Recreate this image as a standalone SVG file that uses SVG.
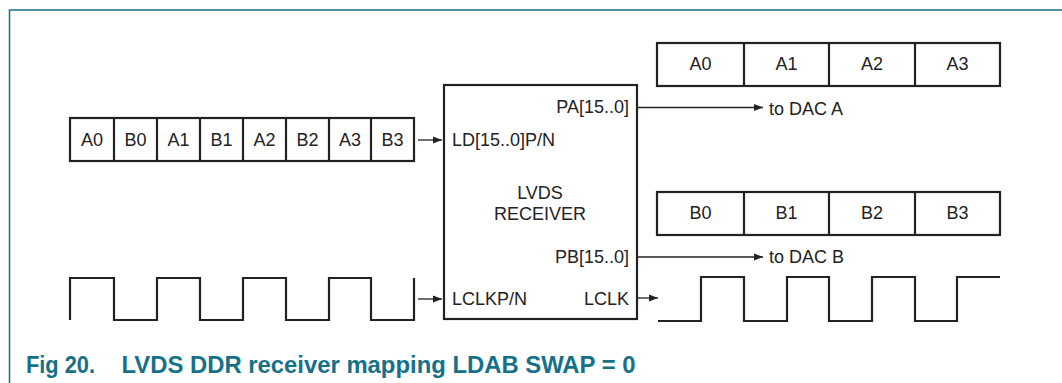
<svg xmlns="http://www.w3.org/2000/svg" width="1062" height="383" viewBox="0 0 1062 383">
<style>
.ln{fill:none;stroke:#222;stroke-width:1.3}
.bx{fill:#fff;stroke:#222;stroke-width:2.2}
.cell{fill:none;stroke:#222;stroke-width:2.2}
.clk{fill:none;stroke:#222;stroke-width:2.2}
.t{font-family:"Liberation Sans",Arial,sans-serif;font-size:18px;fill:#222}
.m{text-anchor:middle}
.e{text-anchor:end}
.cap{font-family:"Liberation Sans",Arial,sans-serif;font-size:23.5px;font-weight:bold;fill:#147189}
</style>
<defs>
<marker id="ah" markerWidth="10" markerHeight="8" refX="9" refY="4" orient="auto" markerUnits="userSpaceOnUse">
<path d="M0,0.5 L9,4 L0,7.5 Z" fill="#222"/>
</marker>
</defs>
<rect width="1062" height="383" fill="#fff"/>
<path d="M1062,10 H9.5 V383" fill="none" stroke="#147189" stroke-width="1.5"/>

<g id="input-bus">
<rect class="cell" x="70" y="118" width="344" height="43"/>
<path class="cell" d="M114,118V161M157,118V161M200,118V161M243,118V161M286,118V161M329,118V161M371,118V161"/>
<text class="t m" x="92" y="146">A0</text>
<text class="t m" x="135.5" y="146">B0</text>
<text class="t m" x="178.5" y="146">A1</text>
<text class="t m" x="221.5" y="146">B1</text>
<text class="t m" x="264.5" y="146">A2</text>
<text class="t m" x="307.5" y="146">B2</text>
<text class="t m" x="350" y="146">A3</text>
<text class="t m" x="392.5" y="146">B3</text>
</g>

<g id="input-clock">
<path class="clk" d="M70,320V278H114V320H157V278H200V320H243V278H286V320H329V278H371V320H414V278"/>
</g>

<g id="receiver">
<rect class="bx" x="444" y="85" width="193" height="234"/>
<text class="t e" x="629" y="113">PA[15..0]</text>
<text class="t" x="452" y="146">LD[15..0]P/N</text>
<text class="t m" x="540" y="199">LVDS</text>
<text class="t m" x="540" y="220">RECEIVER</text>
<text class="t e" x="629" y="263">PB[15..0]</text>
<text class="t" x="452" y="305">LCLKP/N</text>
<text class="t e" x="629" y="305">LCLK</text>
</g>

<g id="output-a">
<rect class="cell" x="657" y="43" width="343" height="43"/>
<path class="cell" d="M744,43V86M829,43V86M915,43V86"/>
<text class="t m" x="700.5" y="70">A0</text>
<text class="t m" x="786.5" y="70">A1</text>
<text class="t m" x="872" y="70">A2</text>
<text class="t m" x="957.5" y="70">A3</text>
</g>

<g id="output-b">
<rect class="cell" x="657" y="192" width="343" height="43"/>
<path class="cell" d="M744,192V235M829,192V235M915,192V235"/>
<text class="t m" x="700.5" y="219">B0</text>
<text class="t m" x="786.5" y="219">B1</text>
<text class="t m" x="872" y="219">B2</text>
<text class="t m" x="957.5" y="219">B3</text>
</g>

<g id="output-clock">
<path class="clk" d="M658,321H701V277H744V321H787V277H829V321H872V277H915V321H957V277H1000"/>
</g>

<g id="dac-labels">
<text class="t" x="769" y="115">to DAC A</text>
<text class="t" x="769" y="263">to DAC B</text>
</g>

<g id="connectors">
<line class="ln" x1="418" y1="140" x2="442" y2="140" marker-end="url(#ah)"/>
<line class="ln" x1="418" y1="299" x2="442" y2="299" marker-end="url(#ah)"/>
<line class="ln" x1="637" y1="107.5" x2="763" y2="107.5" marker-end="url(#ah)"/>
<line class="ln" x1="637" y1="257" x2="763" y2="257" marker-end="url(#ah)"/>
<line class="ln" x1="637" y1="298" x2="658" y2="298" marker-end="url(#ah)"/>
</g>

<text class="cap" x="26" y="373"><tspan textLength="69" lengthAdjust="spacingAndGlyphs">Fig 20.</tspan><tspan x="121.5" textLength="514" lengthAdjust="spacingAndGlyphs">LVDS DDR receiver mapping LDAB SWAP = 0</tspan></text>
</svg>
